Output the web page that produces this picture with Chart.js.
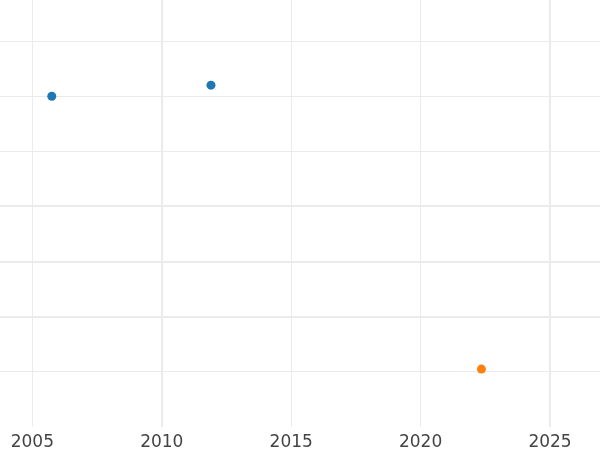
<!DOCTYPE html>
<html>
<head>
<meta charset="utf-8">
<script src="https://cdn.jsdelivr.net/npm/chart.js@4/dist/chart.umd.min.js"></script>
<style>
html,body{margin:0;padding:0;background:#fff;}
canvas{display:block;}
</style>
</head>
<body>
<canvas id="c" width="600" height="450"></canvas>
<script>
// Data
const seriesAYears = [2005.75, 2011.9];
const seriesAValues = [6.0, 6.2];
const seriesBYears = [2022.35];
const seriesBValues = [1.05];
const xTickValues = [2005, 2010, 2015, 2020, 2025];
const xMin = 2003.75, xMax = 2026.93;
const yMin = 0, yMax = 7.745;
const yGridValues = [1, 2, 3, 4, 5, 6, 7];
const thickX = [2010, 2025];
const thickY = [2, 3, 4];

function toPts(xs, ys){ return xs.map((x,i)=>({x:x, y:ys[i]})); }

new Chart(document.getElementById('c'), {
  type: 'scatter',
  data: {
    datasets: [
      {label:'A', data: toPts(seriesAYears, seriesAValues), backgroundColor:'#1f77b4', borderColor:'#1f77b4', borderWidth:0, pointRadius:4.5},
      {label:'B', data: toPts(seriesBYears, seriesBValues), backgroundColor:'#ff7f0e', borderColor:'#ff7f0e', borderWidth:0, pointRadius:4.5}
    ]
  },
  options: {
    responsive:false, animation:false,
    layout:{padding:0, autoPadding:false},
    plugins:{legend:{display:false}, tooltip:{enabled:false}},
    scales:{
      x:{
        type:'linear', min:xMin, max:xMax,
        afterBuildTicks: (s)=>{ s.ticks = xTickValues.map(v=>({value:v})); },
        afterFit: (s)=>{ s.height = 23; s.paddingLeft = 0; s.paddingRight = 0; },
        border:{display:false},
        grid:{color:'#ebebeb', drawTicks:false, lineWidth:(c)=> thickX.includes(c.tick && c.tick.value) ? 2 : 1},
        ticks:{color:'#444', font:{family:'DejaVu Sans', size:17}, padding:5, maxRotation:0, callback:(v)=>String(v)}
      },
      y:{
        type:'linear', min:yMin, max:yMax,
        afterBuildTicks: (s)=>{ s.ticks = yGridValues.map(v=>({value:v})); },
        afterFit: (s)=>{ s.width = 0; s.paddingTop = 0; s.paddingBottom = 0; },
        border:{display:false},
        grid:{color:'#ebebeb', drawTicks:false, lineWidth:(c)=> thickY.includes(c.tick && c.tick.value) ? 2 : 1},
        ticks:{display:false}
      }
    }
  }
});
</script>
</body>
</html>
